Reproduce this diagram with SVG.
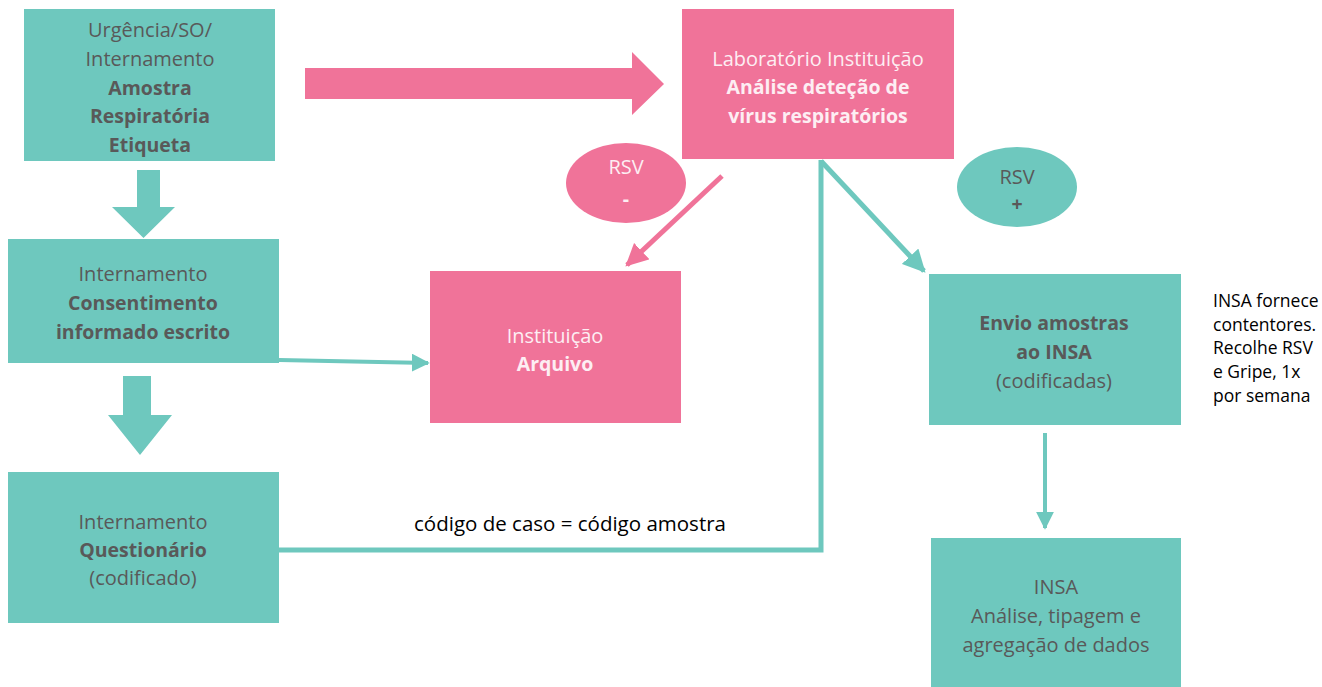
<svg xmlns="http://www.w3.org/2000/svg" width="1322" height="687" viewBox="0 0 1322 687">
<style>
.t{fill:#6EC8BE}
.p{fill:#F07399}
text{font-family:"Open Sans","Liberation Sans",sans-serif;font-size:20px;text-anchor:middle;dominant-baseline:central}
.g{fill:#595959}
.w{fill:#FDEEF3}
.b{font-weight:bold;font-size:19.5px}
.k{fill:#000}
.n{font-size:17.5px;text-anchor:start}
.c{font-size:20.5px}
</style>
<defs>
<marker id="ap" viewBox="0 0 10 10" refX="9" refY="5" markerWidth="4.5" markerHeight="4.5" orient="auto" markerUnits="strokeWidth"><path d="M0,0L10,5L0,10z" fill="#F07399"/></marker>
<marker id="at" viewBox="0 0 10 10" refX="9" refY="5" markerWidth="4.5" markerHeight="4.5" orient="auto" markerUnits="strokeWidth"><path d="M0,0L10,5L0,10z" fill="#6EC8BE"/></marker>
</defs>
<g id="connectors">
<path class="t" d="M137,170H160V207H175L143.5,238L112,207H137Z"/>
<path class="t" d="M123,376H151V415H172L140,455L108,415H123Z"/>
<path class="p" d="M305,68H632V52L664,84L632,115V99H305Z"/>
<line x1="722" y1="176" x2="627" y2="265" stroke="#F07399" stroke-width="5" marker-end="url(#ap)"/>
<line x1="821" y1="161" x2="924" y2="271" stroke="#6EC8BE" stroke-width="5" marker-end="url(#at)"/>
<polyline points="821,160 821,550 279,550" fill="none" stroke="#6EC8BE" stroke-width="5"/>
<line x1="279" y1="360" x2="428" y2="363" stroke="#6EC8BE" stroke-width="4" marker-end="url(#at)"/>
<line x1="1045" y1="433" x2="1045" y2="528" stroke="#6EC8BE" stroke-width="4" marker-end="url(#at)"/>
</g>
<g id="n1"><rect class="t" x="24" y="9" width="251" height="152"/>
<text class="g" x="150" y="29">Urgência/SO/</text>
<text class="g" x="150" y="58">Internamento</text>
<text class="g b" x="150" y="87">Amostra</text>
<text class="g b" x="150" y="115">Respiratória</text>
<text class="g b" x="150" y="144">Etiqueta</text></g>
<g id="n2"><rect class="t" x="8" y="239" width="271" height="124"/>
<text class="g" x="143" y="273">Internamento</text>
<text class="g b" x="143" y="302">Consentimento</text>
<text class="g b" x="143" y="331">informado escrito</text></g>
<g id="n3"><rect class="t" x="8" y="472" width="271" height="151"/>
<text class="g" x="143" y="521">Internamento</text>
<text class="g b" x="143" y="549">Questionário</text>
<text class="g" x="143" y="577">(codificado)</text></g>
<g id="n4"><rect class="p" x="682" y="9" width="272" height="150"/>
<text class="w" x="818" y="58">Laboratório Instituição</text>
<text class="w b" x="818" y="86">Análise deteção de</text>
<text class="w b" x="818" y="115">vírus respiratórios</text></g>
<g id="n5"><ellipse class="p" cx="626" cy="183" rx="60" ry="40"/>
<text class="w" x="626" y="166">RSV</text>
<text class="w b" x="626" y="198">-</text></g>
<g id="n6"><ellipse class="t" cx="1017" cy="187" rx="60" ry="40"/>
<text class="g" x="1017" y="176">RSV</text>
<text class="g b" x="1017" y="203">+</text></g>
<g id="n7"><rect class="p" x="430" y="271" width="251" height="152"/>
<text class="w" x="555" y="335">Instituição</text>
<text class="w b" x="555" y="363">Arquivo</text></g>
<g id="n8"><rect class="t" x="929" y="274" width="252" height="151"/>
<text class="g b" x="1054" y="322">Envio amostras</text>
<text class="g b" x="1054" y="351">ao INSA</text>
<text class="g" x="1054" y="380">(codificadas)</text></g>
<g id="n9"><rect class="t" x="931" y="538" width="250" height="149"/>
<text class="g" x="1056" y="586">INSA</text>
<text class="g" x="1056" y="615">Análise, tipagem e</text>
<text class="g" x="1056" y="644">agregação de dados</text></g>
<g id="notes">
<text class="k c" x="570" y="523">código de caso = código amostra</text>
<text class="k n" x="1213" y="300">INSA fornece</text>
<text class="k n" x="1213" y="324">contentores.</text>
<text class="k n" x="1213" y="347">Recolhe RSV</text>
<text class="k n" x="1213" y="371">e Gripe, 1x</text>
<text class="k n" x="1213" y="395">por semana</text>
</g>
</svg>
